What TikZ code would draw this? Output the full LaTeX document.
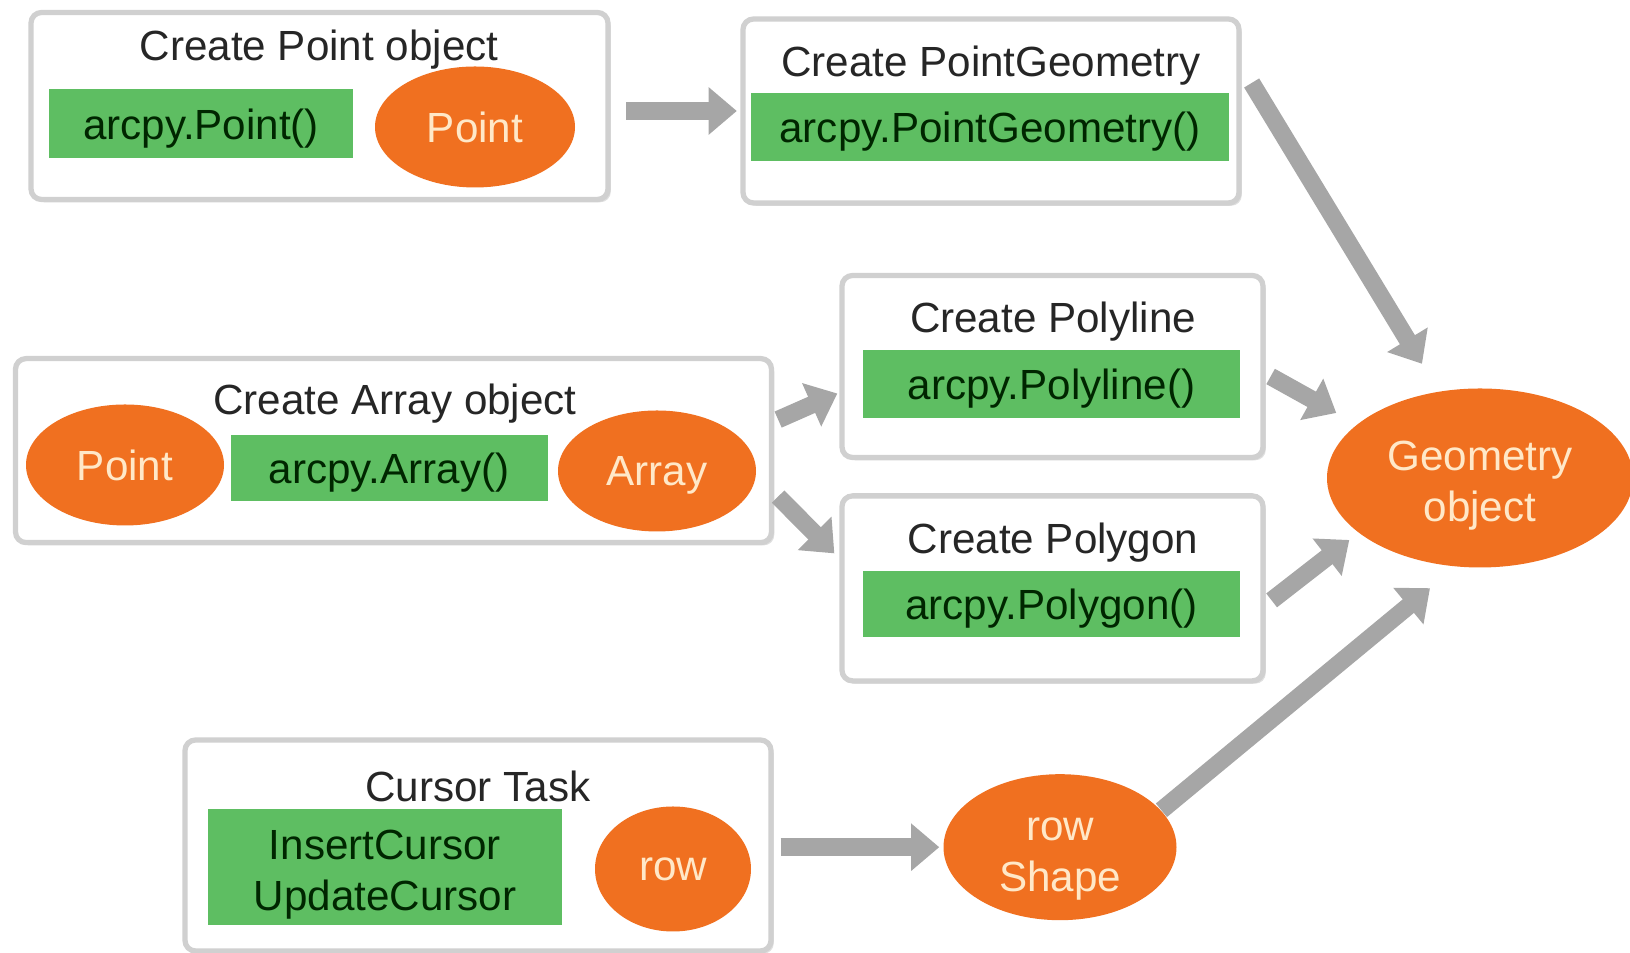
\documentclass[tikz,border=0pt]{standalone}
\usepackage{fontspec}
\setmainfont{Liberation Sans}
\usetikzlibrary{arrows.meta, positioning, shapes.geometric, shadows}
\definecolor{codegreen}{RGB}{94,190,98}
\definecolor{ovalorange}{RGB}{240,112,32}
\definecolor{ovaltext}{RGB}{255,232,200}
\definecolor{flowgray}{RGB}{166,166,166}
\definecolor{framegray}{RGB}{208,208,208}

\begin{document}
\begin{tikzpicture}[
    panel/.style={draw=framegray, line width=1.5pt, fill=white, rounded corners=3pt,
      drop shadow={shadow xshift=0.8pt, shadow yshift=-0.8pt, opacity=0.25}},
    title/.style={text=black!85, font=\fontsize{12}{14.5}\selectfont},
    code/.style={fill=codegreen, text=black!85!green, inner sep=0pt, align=center, text depth=0pt,
      font=\fontsize{12}{14.5}\selectfont},
    oval/.style={ellipse, fill=ovalorange, text=ovaltext, inner sep=0pt, align=center, text depth=0pt,
      font=\fontsize{12}{14.5}\selectfont},
    twolines/.style={text height=25pt},
    flow/.style={draw=flowgray, line width=5pt, -{Triangle[length=8pt, width=13pt]}}
  ]
  \useasboundingbox (0,0) rectangle (16.30,9.53);

  % Create Point object
  \node[panel, minimum width=5.77cm, minimum height=1.87cm] (pointbox) at (3.195,8.47) {};
  \node[title] (pointtitle) at (3.19,9.03) {Create Point object};
  \node[code, minimum width=3.04cm, minimum height=0.69cm] (pointcall) at (2.01,8.29) {arcpy.Point()};
  \node[oval, minimum width=2.0cm, minimum height=1.21cm] (pointoval) at (4.75,8.26) {Point};

  % Create PointGeometry
  \node[panel, minimum width=4.96cm, minimum height=1.84cm] (pgeombox) at (9.91,8.42) {};
  \node[title] (pgeomtitle) at (9.91,8.87) {Create PointGeometry};
  \node[code, minimum width=4.78cm, minimum height=0.68cm] (pgeomcall) at (9.90,8.26) {arcpy.PointGeometry()};

  % Create Array object
  \node[panel, minimum width=7.56cm, minimum height=1.84cm] (arraybox) at (3.935,5.024) {};
  \node[title] (arraytitle) at (3.95,5.49) {Create Array object};
  \node[oval, minimum width=1.98cm, minimum height=1.21cm] (arraypoint) at (1.25,4.88) {Point};
  \node[code, minimum width=3.17cm, minimum height=0.665cm] (arraycall) at (3.89,4.85) {arcpy.Array()};
  \node[oval, minimum width=1.98cm, minimum height=1.21cm] (arrayoval) at (6.57,4.82) {Array};

  % Create Polyline
  \node[panel, minimum width=4.21cm, minimum height=1.82cm] (linebox) at (10.525,5.865) {};
  \node[title] (linetitle) at (10.53,6.31) {Create Polyline};
  \node[code, minimum width=3.77cm, minimum height=0.68cm] (linecall) at (10.515,5.69) {arcpy.Polyline()};

  % Create Polygon
  \node[panel, minimum width=4.21cm, minimum height=1.85cm] (polybox) at (10.525,3.646) {};
  \node[title] (polytitle) at (10.53,4.10) {Create Polygon};
  \node[code, minimum width=3.77cm, minimum height=0.665cm] (polycall) at (10.515,3.49) {arcpy.Polygon()};

  % Cursor Task
  \node[panel, minimum width=5.86cm, minimum height=2.11cm] (cursorbox) at (4.78,1.075) {};
  \node[title] (cursortitle) at (4.78,1.67) {Cursor Task};
  \node[code, twolines, minimum width=3.54cm, minimum height=1.165cm] (cursorcall) at (3.85,0.86) {InsertCursor\\UpdateCursor};
  \node[oval, minimum width=1.56cm, minimum height=1.25cm] (rowoval) at (6.73,0.84) {row};

  % results
  \node[oval, twolines, minimum width=2.33cm, minimum height=1.46cm] (rowshape) at (10.60,1.058) {row\\Shape};
  \node[oval, twolines, minimum width=3.06cm, minimum height=1.79cm] (geom) at (14.80,4.75) {Geometry\\object};

  % flows
  \draw[flow, shorten <=4.5pt, shorten >=1pt] (pointbox.east |- pgeombox.west) -- (pgeombox.west);
  \draw[flow] ([shift={(0.10,0.28)}]pgeombox.east) -- ([shift={(-0.58,0.24)}]geom.north);
  \draw[flow] ([shift={(0.04,0.31)}]arraybox.east) -- ([shift={(-0.02,-0.27)}]linebox.west);
  \draw[flow] ([shift={(0.04,-0.46)}]arraybox.east) -- ([shift={(-0.05,0.35)}]polybox.west);
  \draw[flow] ([shift={(0.05,-0.10)}]linebox.east) -- ([shift={(0.10,0.65)}]geom.west);
  \draw[flow] ([shift={(0.06,-0.12)}]polybox.east) -- ([shift={(0.23,-0.62)}]geom.west);
  \draw[flow, shorten <=2pt, shorten >=1pt] (cursorbox.east |- rowshape.west) -- (rowshape.west);
  \draw[flow] (rowshape.20) -- ([shift={(-0.50,-0.20)}]geom.south);
\end{tikzpicture}
\end{document}
